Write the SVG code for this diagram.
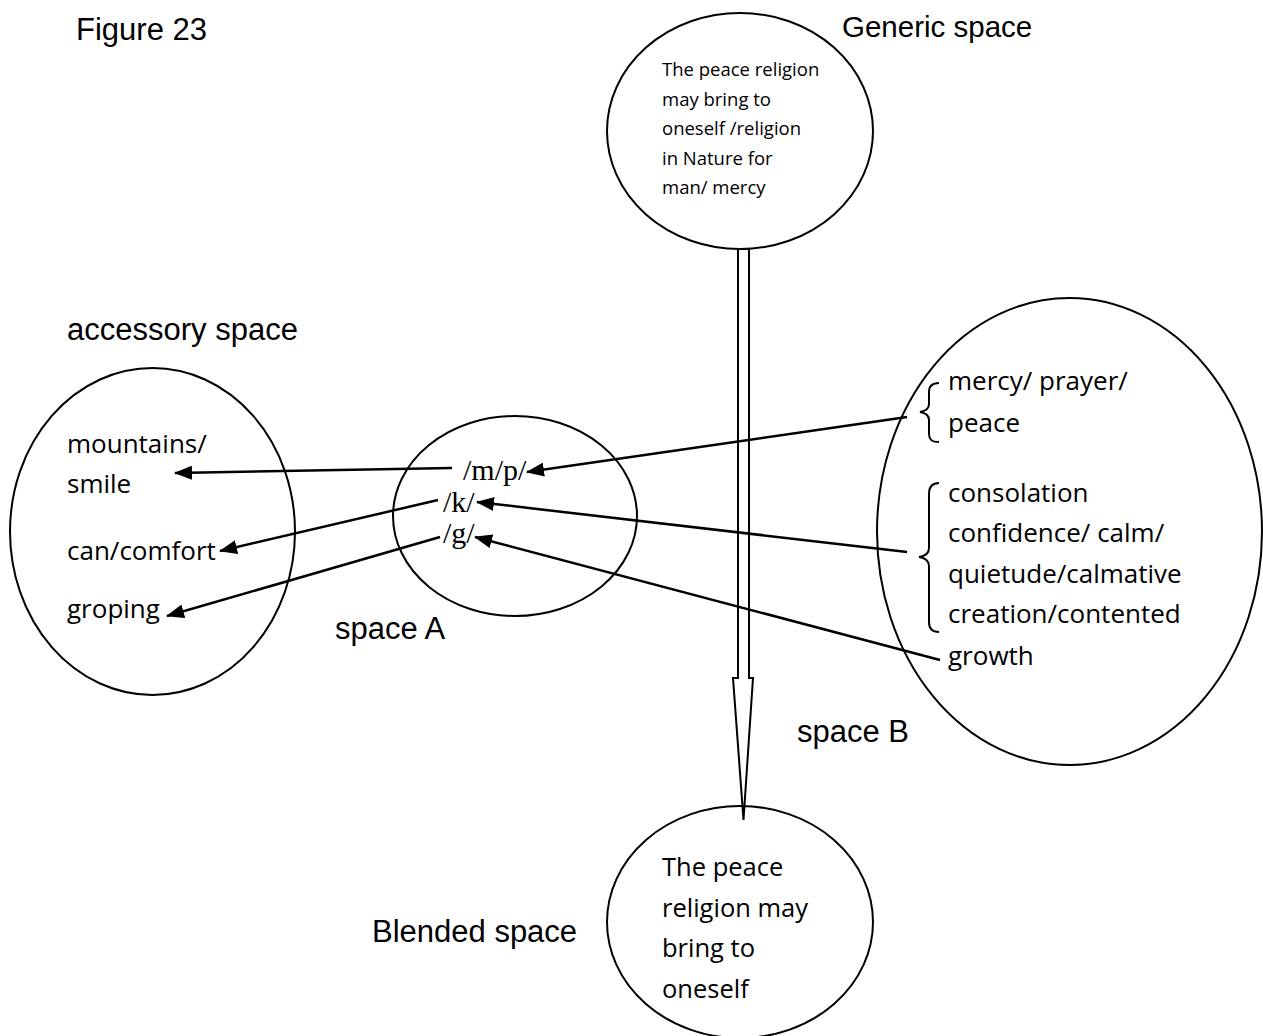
<svg xmlns="http://www.w3.org/2000/svg" width="1263" height="1036" viewBox="0 0 1263 1036">
<style>
.lbl{font-family:"Liberation Sans",Arial,sans-serif;font-size:31px;fill:#000}
.txt{font-family:"Open Sans","Noto Sans",sans-serif;font-size:26px;fill:#000}
.gen{font-family:"Open Sans","Noto Sans",sans-serif;font-size:18.5px;fill:#000}
.ser{font-family:"Liberation Serif","Times New Roman",serif;font-size:30px;fill:#000}
.ell{fill:none;stroke:#000;stroke-width:2}
.con{fill:none;stroke:#000;stroke-width:2.5}
.brace{fill:none;stroke:#000;stroke-width:2}
</style>
<defs>
<marker id="ah" viewBox="0 0 18 14" refX="17" refY="7" markerWidth="18" markerHeight="14" markerUnits="userSpaceOnUse" orient="auto">
<path d="M0,0 L18,7 L0,14 z" fill="#000"/>
</marker>
</defs>
<rect width="1263" height="1036" fill="#fff"/>
<text class="lbl" x="76" y="40">Figure 23</text>
<g id="generic">
<ellipse class="ell" cx="740" cy="131" rx="133" ry="118"/>
<text class="lbl" x="842" y="37" style="font-size:29.5px">Generic space</text>
<text class="gen" x="662" y="76">The peace religion</text>
<text class="gen" x="662" y="105.5">may bring to</text>
<text class="gen" x="662" y="135">oneself /religion</text>
<text class="gen" x="662" y="164.5">in Nature for</text>
<text class="gen" x="662" y="194">man/ mercy</text>
</g>
<g id="accessory">
<ellipse class="ell" cx="152.5" cy="531.5" rx="142.5" ry="163.5"/>
<text class="lbl" x="67" y="340">accessory space</text>
<text class="txt" x="67" y="453">mountains/</text>
<text class="txt" x="67" y="493">smile</text>
<text class="txt" x="67" y="560">can/comfort</text>
<text class="txt" x="67" y="618">groping</text>
</g>
<g id="spaceA">
<ellipse class="ell" cx="515" cy="516" rx="122" ry="100"/>
<text class="lbl" x="335" y="639">space A</text>
<text class="ser" x="463" y="480">/m/p/</text>
<text class="ser" x="443" y="512">/k/</text>
<text class="ser" x="443" y="543">/g/</text>
</g>
<g id="spaceB">
<ellipse class="ell" cx="1069.5" cy="531.5" rx="192.5" ry="233.5"/>
<text class="lbl" x="797" y="742">space B</text>
<path class="brace" d="M939,383 C932,383 929,386 929,392 L929,404 C929,408 926,411 920,412 C926,413 929,416 929,420 L929,434 C929,440 932,442 939,442"/>
<path class="brace" d="M939,483 C932,483 929,487 929,494 L929,548 C929,553 926,556 919,557 C926,558 929,561 929,566 L929,622 C929,629 932,632 939,632"/>
<text class="txt" x="948" y="390">mercy/ prayer/</text>
<text class="txt" x="948" y="432">peace</text>
<text class="txt" x="948" y="502">consolation</text>
<text class="txt" x="948" y="542">confidence/ calm/</text>
<text class="txt" x="948" y="583">quietude/calmative</text>
<text class="txt" x="948" y="623">creation/contented</text>
<text class="txt" x="948" y="665">growth</text>
</g>
<g id="blended">
<ellipse class="ell" cx="740" cy="922" rx="133" ry="116"/>
<text class="lbl" x="372" y="942">Blended space</text>
<text class="txt" x="662" y="876" style="font-size:25.5px">The peace</text>
<text class="txt" x="662" y="917" style="font-size:25.5px">religion may</text>
<text class="txt" x="662" y="957" style="font-size:25.5px">bring to</text>
<text class="txt" x="662" y="998" style="font-size:25.5px">oneself</text>
</g>
<g id="connectors">
<polygon points="738,249 749,249 749,678 753,678 743.5,820 733,678 738,678" fill="#fff" stroke="#000" stroke-width="2" stroke-linejoin="miter"/>
<line class="con" x1="907" y1="417" x2="527" y2="472" marker-end="url(#ah)"/>
<line class="con" x1="452" y1="468" x2="175" y2="473" marker-end="url(#ah)"/>
<line class="con" x1="438" y1="500" x2="220" y2="551" marker-end="url(#ah)"/>
<line class="con" x1="440" y1="537" x2="167" y2="616" marker-end="url(#ah)"/>
<line class="con" x1="907" y1="552" x2="477" y2="502" marker-end="url(#ah)"/>
<line class="con" x1="940" y1="660" x2="475" y2="537" marker-end="url(#ah)"/>
</g>
</svg>
